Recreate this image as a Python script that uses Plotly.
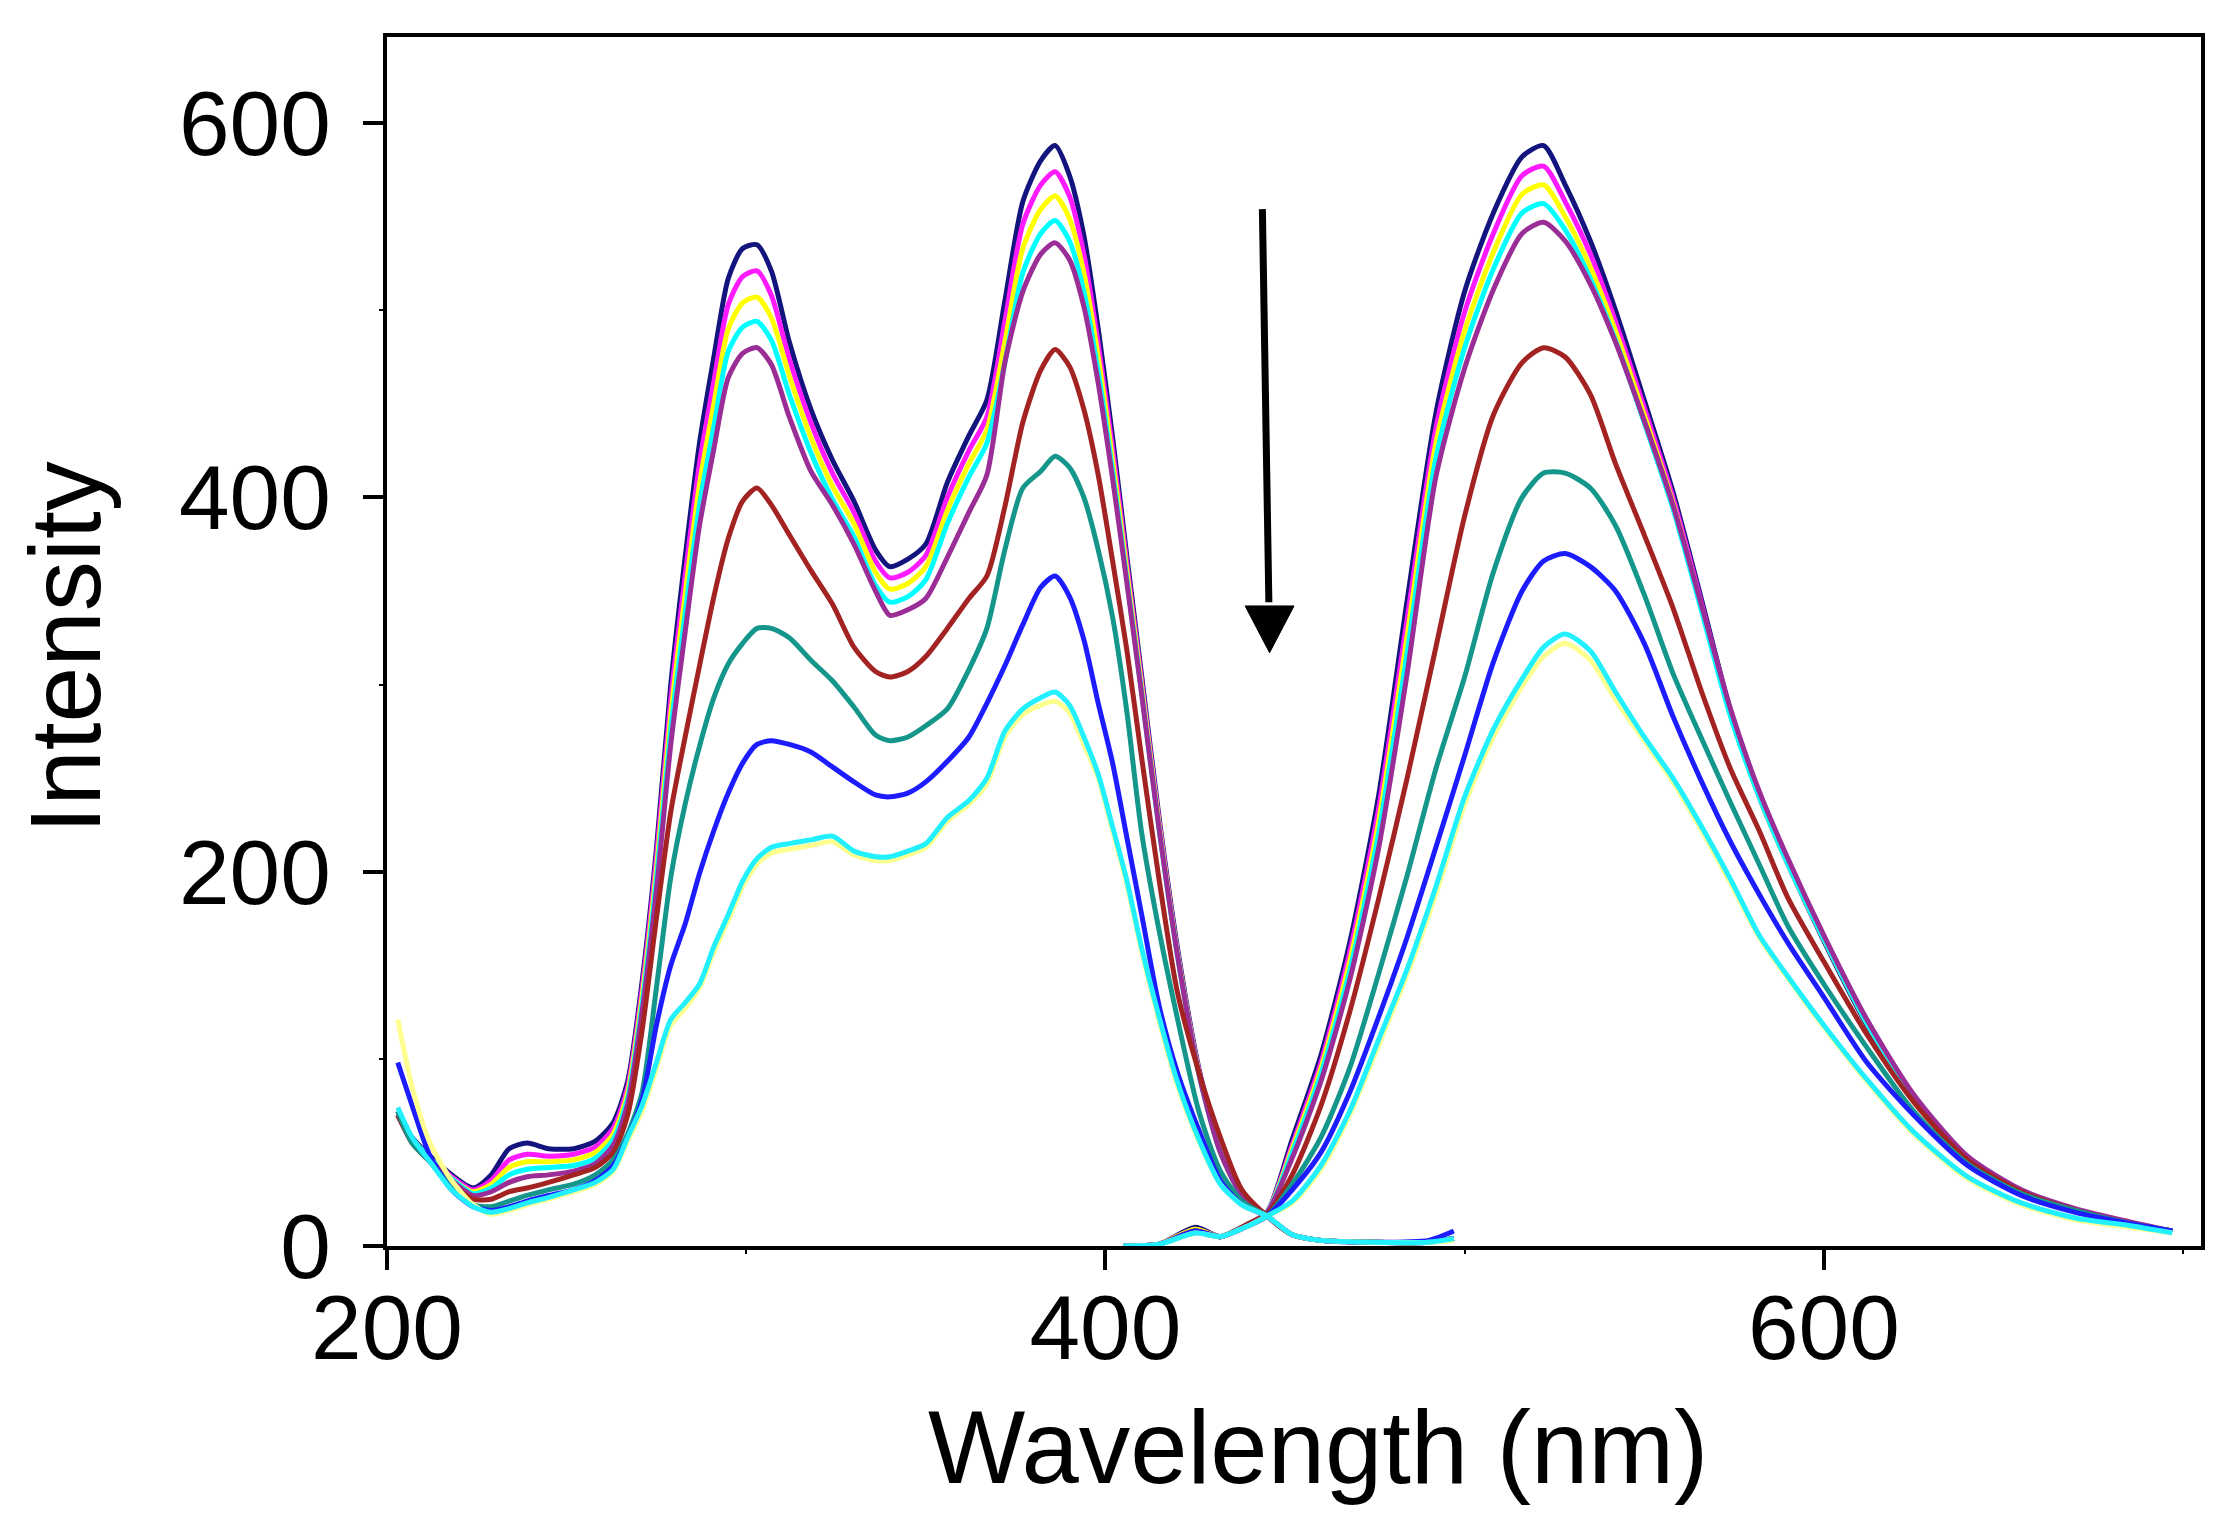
import plotly.graph_objects as go

# excitation side (left, two bands) and emission side (right band), nm
wl_ex = [203, 207, 212, 218, 224, 229, 234, 239, 245, 252,
         258, 263, 267, 271, 275, 279, 283, 287, 291, 295,
         299, 303, 307, 312, 318, 324, 330, 336, 340, 345,
         350, 356, 362, 367, 372, 377, 382, 386, 390, 394,
         398, 402, 406, 410, 415, 420, 426, 432, 438, 445,
         452, 460, 475, 490, 497]
wl_em = [405, 415, 425, 432, 440, 445, 452, 460, 468, 476,
         484, 492, 500, 508, 516, 522, 528, 535, 542, 550,
         558, 566, 574, 582, 590, 600, 612, 625, 640, 655,
         670, 685, 697]

# intensities, one spectrum per addition step (top to bottom)
ex_navy = [72, 58, 48, 38, 31, 38, 52, 55, 52, 52,
           56, 66, 88, 141, 212, 300, 368, 429, 475, 517,
           533, 535, 521, 483, 447, 420, 398, 372, 363, 367,
           375, 408, 433, 452, 505, 558, 580, 588, 572, 540,
           490, 432, 368, 306, 228, 160, 95, 52, 28, 16,
           6, 3, 2, 2, 4]
ex_magenta = [70, 57, 47, 37, 30, 35, 46, 49, 48, 49,
              53, 63, 85, 137, 207, 292, 358, 418, 462, 503,
              518, 521, 508, 474, 440, 413, 392, 366, 357, 360,
              369, 400, 425, 443, 494, 546, 567, 574, 561, 530,
              482, 426, 364, 303, 226, 158, 94, 51, 28, 16,
              6, 3, 2, 2, 4]
ex_yellow = [70, 57, 47, 36, 29, 33, 42, 45, 45, 46,
             50, 60, 82, 133, 201, 284, 348, 407, 450, 490,
             504, 507, 496, 465, 432, 406, 386, 360, 351, 354,
             363, 393, 418, 436, 483, 533, 554, 561, 549, 520,
             475, 420, 360, 300, 224, 157, 93, 50, 27, 16,
             6, 3, 2, 2, 4]
ex_cyan = [70, 57, 47, 36, 28, 31, 38, 41, 42, 43,
           47, 57, 79, 129, 196, 276, 338, 396, 438, 478,
           491, 494, 484, 455, 424, 399, 379, 353, 344, 347,
           356, 386, 411, 429, 472, 520, 541, 548, 537, 510,
           467, 414, 356, 297, 222, 156, 92, 50, 27, 16,
           6, 3, 2, 2, 4]
ex_purple = [70, 56, 46, 35, 27, 29, 34, 37, 38, 40,
             44, 54, 76, 125, 190, 268, 328, 385, 426, 464,
             477, 480, 471, 443, 414, 396, 375, 350, 337, 340,
             346, 368, 392, 412, 472, 510, 530, 536, 527, 502,
             461, 410, 354, 296, 222, 156, 92, 50, 27, 16,
             6, 3, 2, 2, 4]
ex_darkred = [70, 55, 45, 33, 25, 25, 29, 31, 34, 38,
              42, 50, 70, 115, 175, 232, 272, 310, 347, 378,
              398, 405, 396, 380, 361, 343, 320, 307, 304, 307,
              315, 330, 346, 358, 395, 440, 468, 479, 470, 447,
              412, 366, 318, 262, 195, 136, 93, 58, 30, 16,
              6, 3, 2, 2, 4]
ex_teal = [72, 55, 45, 32, 22, 21, 24, 27, 30, 33,
           38, 46, 60, 82, 138, 197, 236, 267, 293, 311,
           322, 330, 330, 325, 313, 302, 288, 273, 270, 272,
           278, 287, 308, 330, 372, 405, 414, 422, 416, 400,
           372, 336, 285, 222, 168, 122, 72, 40, 24, 16,
           6, 3, 2, 2, 4]
ex_blue = [98, 75, 48, 30, 21, 19, 21, 24, 27, 30,
           35, 43, 58, 78, 118, 150, 172, 199, 222, 242,
           258, 268, 270, 268, 264, 256, 248, 241, 240, 242,
           248, 259, 272, 290, 310, 332, 352, 358, 347, 324,
           290, 258, 218, 178, 128, 93, 62, 35, 22, 16,
           6, 3, 2, 3, 8]
ex_ltcyan = [74, 58, 45, 30, 21, 18, 20, 23, 26, 30,
             34, 41, 58, 75, 98, 121, 130, 140, 160, 177,
             195, 207, 213, 215, 217, 219, 211, 208, 208, 211,
             215, 229, 238, 250, 275, 287, 293, 296, 289, 272,
             252, 224, 195, 160, 122, 88, 57, 33, 22, 16,
             6, 3, 2, 2, 4]
ex_ltyellow = [121, 85, 55, 35, 22, 17, 19, 22, 25, 29,
               33, 40, 56, 72, 95, 118, 127, 138, 157, 174,
               192, 204, 210, 212, 214, 216, 209, 206, 206, 209,
               213, 227, 236, 247, 272, 284, 289, 291, 285, 268,
               250, 222, 193, 158, 120, 86, 56, 33, 22, 16,
               6, 3, 2, 2, 3]

em_navy = [0, 1, 10, 5, 12, 18, 57, 102, 162, 240,
           345, 445, 510, 552, 582, 588, 567, 537, 500, 452,
           403, 345, 286, 240, 204, 163, 118, 79, 47, 29,
           19, 12, 8]
em_magenta = [0, 1, 9, 5, 12, 18, 54, 98, 157, 233,
              335, 437, 499, 541, 572, 577, 558, 530, 494, 448,
              400, 343, 285, 240, 204, 164, 119, 80, 47, 29,
              19, 12, 8]
em_yellow = [0, 1, 9, 5, 12, 18, 52, 95, 152, 226,
             326, 429, 489, 531, 562, 567, 550, 523, 489, 444,
             397, 341, 284, 240, 204, 164, 119, 80, 47, 29,
             19, 12, 8]
em_cyan = [0, 1, 8, 5, 12, 18, 50, 92, 147, 220,
           317, 421, 480, 522, 552, 557, 543, 517, 484, 440,
           394, 339, 283, 240, 204, 164, 119, 80, 47, 29,
           19, 12, 8]
em_purple = [0, 1, 8, 5, 12, 18, 47, 88, 142, 212,
             306, 411, 469, 511, 541, 547, 537, 514, 483, 441,
             396, 342, 287, 243, 207, 166, 121, 81, 48, 30,
             20, 13, 8]
em_darkred = [0, 1, 8, 5, 12, 17, 38, 75, 125, 185,
              250, 320, 390, 444, 472, 480, 475, 455, 418, 380,
              341, 296, 255, 222, 186, 152, 113, 77, 46, 29,
              19, 12, 8]
em_teal = [0, 1, 7, 5, 11, 16, 33, 58, 95, 145,
           198, 255, 304, 360, 400, 413, 413, 405, 385, 348,
           306, 271, 237, 204, 171, 140, 106, 72, 44, 28,
           19, 12, 8]
em_blue = [0, 1, 8, 5, 11, 16, 30, 50, 82, 122,
           165, 213, 262, 312, 350, 366, 370, 363, 350, 322,
           283, 248, 216, 188, 162, 133, 98, 70, 43, 27,
           18, 12, 8]
em_ltcyan = [0, 1, 7, 5, 11, 16, 24, 43, 72, 110,
             148, 192, 240, 276, 303, 320, 327, 318, 296, 272,
             250, 224, 196, 166, 144, 118, 89, 61, 37, 23,
             15, 11, 7]
em_ltyellow = [0, 1, 7, 5, 11, 16, 23, 41, 70, 107,
               145, 188, 236, 272, 299, 315, 322, 313, 292, 270,
               248, 222, 194, 165, 143, 117, 88, 60, 36, 22,
               14, 10, 7]

spectra = [
    (ex_navy, em_navy, "#14147e"),
    (ex_magenta, em_magenta, "#ff1aff"),
    (ex_yellow, em_yellow, "#ffff00"),
    (ex_cyan, em_cyan, "#00ffff"),
    (ex_purple, em_purple, "#9a2e96"),
    (ex_darkred, em_darkred, "#a32222"),
    (ex_teal, em_teal, "#14968a"),
    (ex_blue, em_blue, "#1c1cff"),
    (ex_ltyellow, em_ltyellow, "#ffff90"),
    (ex_ltcyan, em_ltcyan, "#22f0ff"),
]

# arrow: shaft start/end and head (nm, intensity)
arrow_top = (443.7, 554)
arrow_tip = (445.7, 317)
head_base_y = 342
head_half_w = 6.8

fig = go.Figure()
for ex, em, color in spectra:
    fig.add_trace(go.Scatter(x=wl_ex + [None] + wl_em,
                             y=ex + [None] + em,
                             mode='lines',
                             line=dict(color=color, width=5, shape='spline', smoothing=0.7),
                             connectgaps=False,
                             showlegend=False))

fig.add_shape(type='line', xref='x', yref='y',
              x0=arrow_top[0], y0=arrow_top[1], x1=arrow_tip[0] - 0.2, y1=head_base_y + 2,
              line=dict(color='black', width=7))
fig.add_shape(type='path', xref='x', yref='y',
              path=(f"M {arrow_tip[0] - head_half_w} {head_base_y} "
                    f"L {arrow_tip[0] + head_half_w} {head_base_y} "
                    f"L {arrow_tip[0]} {arrow_tip[1]} Z"),
              fillcolor='black', line=dict(color='black', width=1))

# axis titles as annotations so they sit where the original has them
fig.add_annotation(text="Wavelength (nm)", xref='paper', yref='paper',
                   x=0.513, y=-0.167, xanchor='center', yanchor='middle',
                   showarrow=False, font=dict(size=103, color='black'))
fig.add_annotation(text="Intensity", xref='paper', yref='paper',
                   x=-0.178, y=0.495, xanchor='center', yanchor='middle',
                   textangle=-90, showarrow=False, font=dict(size=100, color='black'))

axis_style = dict(showline=True, linewidth=4, linecolor='black', mirror=True,
                  ticks='outside', ticklen=20, tickwidth=4, tickcolor='black',
                  showgrid=False, zeroline=False,
                  tickfont=dict(size=91, color='black'),
                  minor=dict(ticks='outside', ticklen=4, tickwidth=2, tickcolor='black', dtick=100))

fig.update_xaxes(range=[200, 705], tickvals=[200, 400, 600], ticklabelstandoff=-20, **axis_style)
fig.update_yaxes(range=[0, 646], tickvals=[0, 200, 400, 600], ticklabelstandoff=14, **axis_style)

fig.update_layout(width=2231, height=1522,
                  margin=dict(l=379, r=38, t=29, b=284),
                  plot_bgcolor='white', paper_bgcolor='white',
                  font=dict(family="Liberation Sans, Arial, sans-serif", color='black'),
                  showlegend=False)

fig.write_html("out.html")
